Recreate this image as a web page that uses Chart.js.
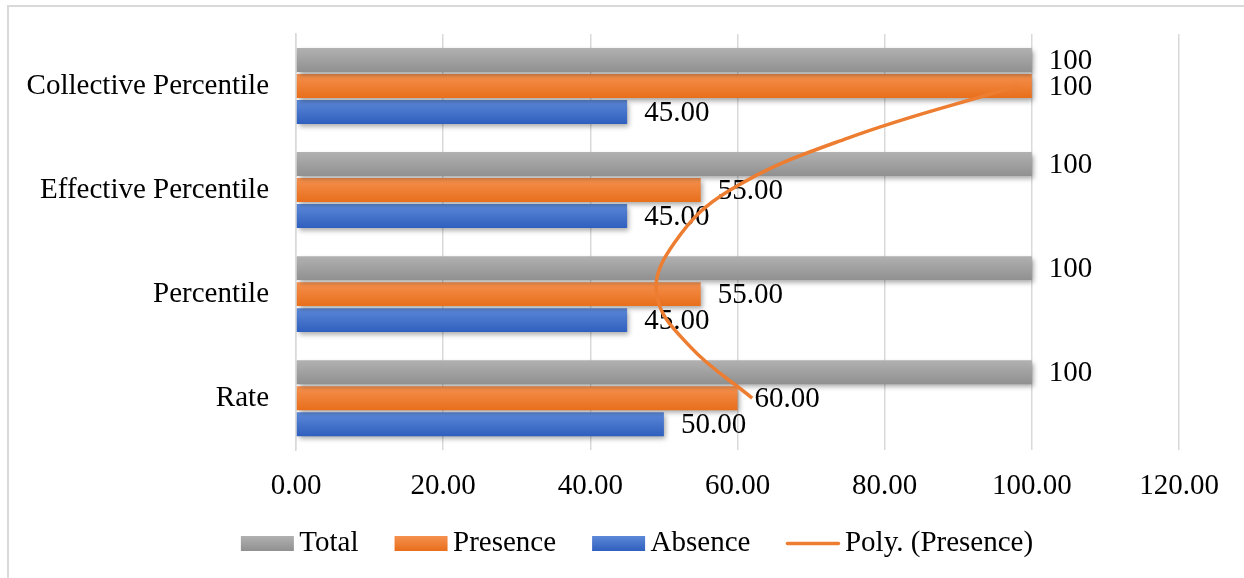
<!DOCTYPE html>
<html>
<head>
<meta charset="utf-8">
<script src="https://cdn.jsdelivr.net/npm/chart.js@4.4.0/dist/chart.umd.min.js"></script>
<style>
    html, body { margin: 0; padding: 0; background: #fff; }
    #wrap { position: relative; width: 1244px; height: 578px; overflow: hidden; }
    #frame { position: absolute; left: 7px; top: 5px; width: 1300px; height: 640px;
             border-left: 2px solid #d9d9d9; border-top: 2px solid #d9d9d9; }
    #chartCanvas { position: absolute; left: 0; top: 0; }
</style>
</head>
<body>
<div id="wrap">
    <div id="frame"></div>
    <canvas id="chartCanvas" width="1244" height="578"></canvas>
</div>
<script>
// categories top to bottom, as in the picture
const categories = ['Collective Percentile', 'Effective Percentile', 'Percentile', 'Rate'];
const totalValues = [100, 100, 100, 100];
const presenceValues = [100, 55, 55, 60];
const absenceValues = [45, 45, 45, 50];

// polynomial trendline of Presence (position = category index)
const trendPositions = [3, 2.5, 2, 1.5, 1, 0.5, 0];
const trendValues = [62, 53.5, 49, 51.5, 59, 75, 98];

const xTicks = [0, 20, 40, 60, 80, 100, 120];

const FONT = 'Liberation Serif, Times New Roman, serif';
const FONT_SIZE = 29;
const LEGEND_PAD = 6;
const LEGEND_GAP = 36;

// top / bottom colours of the shaded bars
const shades = {
    Total: ['#b1b1b1', '#909090'],
    Presence: ['#f5914f', '#e86e1b'],
    Absence: ['#5d89d8', '#2f5fbe']
};

function fmt(v) {
    return v === 100 ? '100' : v.toFixed(2);
}

const barLook = {
    beforeDatasetDraw(chart, args) {
        const ds = chart.data.datasets[args.index];
        if (ds.type === 'line') return;
        const ctx = chart.ctx;
        const sh = shades[ds.label];
        args.meta.data.forEach(el => {
            const top = el.y - el.height / 2;
            const g = ctx.createLinearGradient(0, top, 0, top + el.height);
            g.addColorStop(0, sh[0]);
            g.addColorStop(1, sh[1]);
            el.options = Object.assign({}, el.options, { backgroundColor: g });
        });
        ctx.save();
        ctx.shadowColor = 'rgba(0,0,0,0.35)';
        ctx.shadowBlur = 5;
        ctx.shadowOffsetX = 2;
        ctx.shadowOffsetY = 3;
    },
    afterDatasetDraw(chart, args) {
        const ds = chart.data.datasets[args.index];
        if (ds.type === 'line') return;
        const ctx = chart.ctx;
        ctx.restore();
        ctx.save();
        ctx.fillStyle = '#000';
        ctx.font = FONT_SIZE + 'px ' + FONT;
        ctx.textAlign = 'left';
        ctx.textBaseline = 'middle';
        args.meta.data.forEach((el, i) => {
            ctx.fillText(fmt(ds.data[i].x), el.x + 17, el.y + 1);
        });
        ctx.restore();
    },
    afterDraw(chart) {
        const lg = chart.legend;
        if (!lg || !lg.legendHitBoxes) return;
        const ctx = chart.ctx;
        const shift = LEGEND_GAP - LEGEND_PAD;
        lg.legendHitBoxes.forEach((hb, i) => {
            const ds = chart.data.datasets[i];
            const left = hb.left + shift;
            const top = hb.top + (FONT_SIZE - 15) / 2;
            ctx.save();
            if (ds.type === 'line') {
                ctx.strokeStyle = '#ed7d31';
                ctx.lineWidth = 3.5;
                ctx.lineCap = 'round';
                ctx.beginPath();
                ctx.moveTo(left + 1, top + 7.5);
                ctx.lineTo(left + 52, top + 7.5);
                ctx.stroke();
            } else {
                const sh = shades[ds.label];
                const g = ctx.createLinearGradient(0, top, 0, top + 15);
                g.addColorStop(0, sh[0]);
                g.addColorStop(1, sh[1]);
                ctx.fillStyle = g;
                ctx.fillRect(left, top, 53, 15);
            }
            ctx.restore();
        });
    }
};

const toPoints = (vals) => vals.map((v, i) => ({ x: v, y: i }));
const trendData = trendPositions.map((p, i) => ({ x: trendValues[i], y: p }));
const barOpts = { categoryPercentage: 0.75, barPercentage: 0.92 };

new Chart(document.getElementById('chartCanvas'), {
    type: 'bar',
    data: {
        datasets: [
            Object.assign({ label: 'Total', data: toPoints(totalValues), backgroundColor: '#a5a5a5' }, barOpts),
            Object.assign({ label: 'Presence', data: toPoints(presenceValues), backgroundColor: '#ed7d31' }, barOpts),
            Object.assign({ label: 'Absence', data: toPoints(absenceValues), backgroundColor: '#4472c4' }, barOpts),
            {
                type: 'line',
                label: 'Poly. (Presence)',
                data: trendData,
                borderColor: '#ed7d31',
                borderWidth: 3.5,
                pointRadius: 0,
                tension: 0.4,
                fill: false,
                order: -1
            }
        ]
    },
    options: {
        indexAxis: 'y',
        responsive: false,
        animation: false,
        devicePixelRatio: 1,
        layout: { padding: { left: 0, top: 34, right: 0, bottom: 10 } },
        plugins: {
            tooltip: { enabled: false },
            legend: {
                position: 'bottom',
                labels: {
                    font: { family: FONT, size: FONT_SIZE },
                    color: '#000',
                    boxWidth: 44 + LEGEND_GAP - LEGEND_PAD,
                    boxHeight: 15,
                    padding: LEGEND_PAD,
                    generateLabels: (chart) => chart.data.datasets.map((ds, i) => ({
                        text: ds.label,
                        fillStyle: 'rgba(0,0,0,0)',
                        strokeStyle: 'rgba(0,0,0,0)',
                        lineWidth: 0,
                        fontColor: '#000',
                        hidden: false,
                        datasetIndex: i
                    }))
                }
            }
        },
        scales: {
            x: {
                min: 0,
                max: 120,
                afterBuildTicks: (s) => { s.ticks = xTicks.map(v => ({ value: v })); },
                afterFit: (s) => { s.paddingRight = 65; },
                ticks: {
                    font: { family: FONT, size: FONT_SIZE },
                    color: '#000',
                    padding: 19,
                    callback: (v) => Number(v).toFixed(2)
                },
                grid: { color: '#d9d9d9', lineWidth: 1.5, drawTicks: false },
                border: { display: false }
            },
            y: {
                type: 'linear',
                min: -0.5,
                max: 3.5,
                reverse: true,
                offset: false,
                afterBuildTicks: (s) => { s.ticks = categories.map((c, i) => ({ value: i })); },
                afterFit: (s) => { s.width = 296; s.paddingTop = 0; s.paddingBottom = 0; },
                ticks: {
                    font: { family: FONT, size: FONT_SIZE },
                    color: '#000',
                    padding: 27,
                    callback: (v) => categories[v]
                },
                grid: { display: false, drawTicks: false },
                border: { display: true, color: '#d9d9d9', width: 1.5 }
            }
        }
    },
    plugins: [barLook]
});
</script>
</body>
</html>
